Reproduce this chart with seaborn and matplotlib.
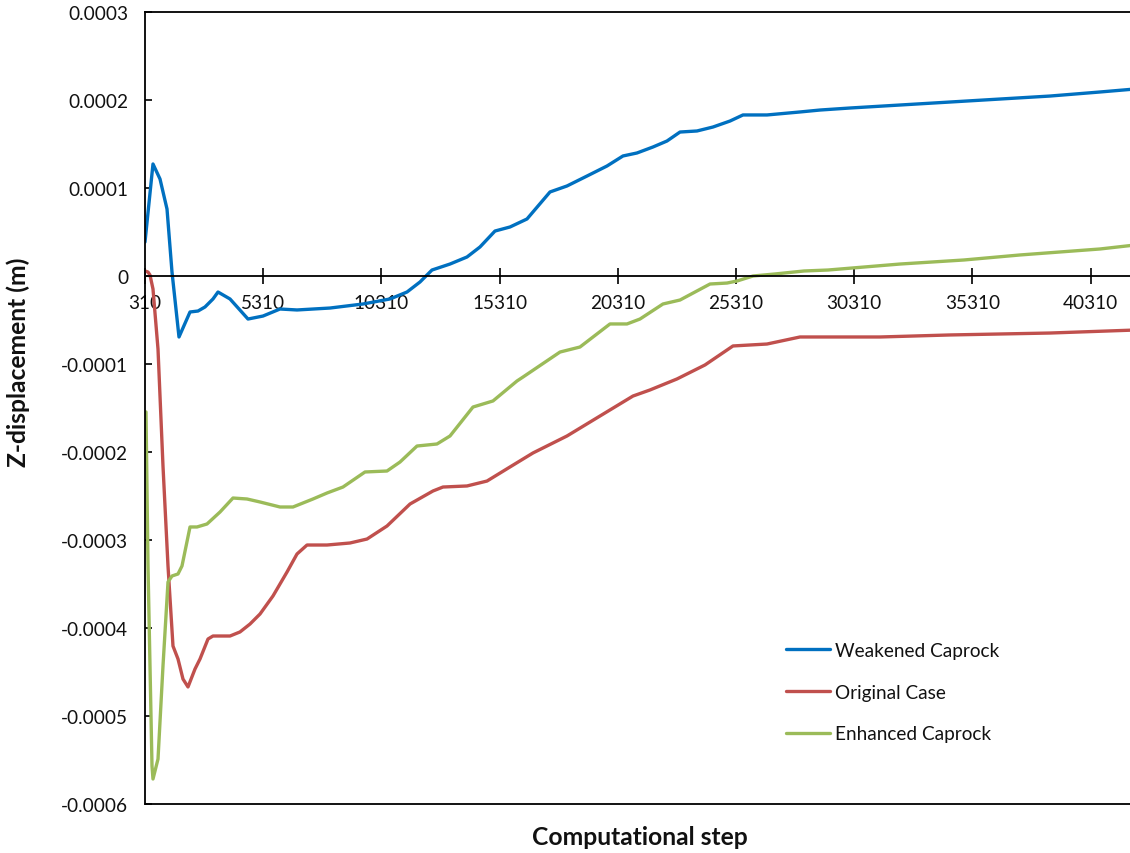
import numpy as np
import pandas as pd
import matplotlib
matplotlib.use("Agg")
import matplotlib.pyplot as plt
import seaborn as sns

# Z-displacement history (m) versus computational step for three caprock cases
weak_step = [310, 648, 945, 1241, 1452, 1748, 2214, 2552, 2848, 3186, 3398, 3906,
             4667, 5301, 6021, 6740, 8136, 9531, 10674, 11393, 11943, 12450, 13212,
             13931, 14481, 15115, 15750, 16469, 17442, 18161, 19007, 19853, 20529,
             21122, 21798, 22391, 22941, 23660, 24336, 25056, 25605, 26621, 28017,
             28863, 30132, 32247, 34362, 36477, 38592, 40707, 42188]
weak_disp = [0.386, 1.273, 1.102, 0.761, 0.045, -0.693, -0.409, -0.398, -0.352,
             -0.261, -0.182, -0.261, -0.489, -0.455, -0.375, -0.386, -0.364, -0.318,
             -0.261, -0.182, -0.068, 0.068, 0.136, 0.216, 0.330, 0.511, 0.557, 0.648,
             0.955, 1.023, 1.136, 1.250, 1.364, 1.398, 1.466, 1.534, 1.636, 1.648,
             1.693, 1.761, 1.830, 1.830, 1.864, 1.886, 1.909, 1.943, 1.977, 2.011,
             2.045, 2.091, 2.125]

orig_step = [310, 437, 521, 648, 860, 1071, 1283, 1494, 1706, 1917, 2129, 2425,
             2637, 2975, 3186, 3906, 4328, 4751, 5175, 5724, 6317, 6740, 7163, 8009,
             8982, 9701, 10547, 11520, 12492, 12915, 13931, 14777, 15750, 16722,
             18161, 19556, 20952, 21672, 22814, 23998, 25182, 26621, 28017, 29286,
             31400, 34362, 38592, 42188]
orig_disp = [0.057, 0.045, 0.011, -0.148, -0.830, -2.159, -3.295, -4.205, -4.352,
             -4.580, -4.670, -4.466, -4.352, -4.125, -4.091, -4.091, -4.045, -3.955,
             -3.841, -3.636, -3.364, -3.159, -3.057, -3.057, -3.034, -2.989, -2.841,
             -2.591, -2.443, -2.398, -2.386, -2.330, -2.170, -2.011, -1.818, -1.591,
             -1.364, -1.295, -1.170, -1.011, -0.795, -0.773, -0.693, -0.693, -0.693,
             -0.670, -0.648, -0.614]

enh_step = [352, 437, 606, 648, 860, 1071, 1283, 1452, 1706, 1875, 2214, 2510,
            2933, 3483, 4032, 4625, 5175, 6021, 6570, 7416, 8009, 8685, 9616,
            10547, 11097, 11816, 12661, 13212, 14184, 15030, 16046, 16300, 17865,
            18710, 19979, 20698, 21248, 22221, 22941, 24210, 24929, 25352, 26029,
            26959, 28186, 29201, 30724, 32247, 34954, 37323, 40707, 42188]
enh_disp = [-1.545, -3.295, -5.568, -5.716, -5.489, -4.432, -3.477, -3.409, -3.386,
            -3.295, -2.852, -2.852, -2.818, -2.682, -2.523, -2.534, -2.568, -2.625,
            -2.625, -2.534, -2.466, -2.398, -2.227, -2.216, -2.114, -1.932, -1.909,
            -1.818, -1.489, -1.420, -1.193, -1.148, -0.864, -0.807, -0.545, -0.545,
            -0.489, -0.318, -0.273, -0.091, -0.080, -0.057, 0.000, 0.023, 0.057,
            0.068, 0.102, 0.136, 0.182, 0.239, 0.307, 0.352]

series_names = ["Weakened Caprock", "Original Case", "Enhanced Caprock"]
series_colors = ["#0070C0", "#C0504D", "#9BBB59"]

x_ticks = [310, 5310, 10310, 15310, 20310, 25310, 30310, 35310, 40310]
y_ticks = [0.0003, 0.0002, 0.0001, 0, -0.0001, -0.0002, -0.0003, -0.0004, -0.0005, -0.0006]
y_tick_labels = ["0.0003", "0.0002", "0.0001", "0", "-0.0001", "-0.0002",
                 "-0.0003", "-0.0004", "-0.0005", "-0.0006"]

frames = []
for name, steps, disp in zip(series_names,
                             [weak_step, orig_step, enh_step],
                             [weak_disp, orig_disp, enh_disp]):
    frames.append(pd.DataFrame({"step": steps,
                                "disp": np.array(disp) * 1e-4,
                                "case": name}))
df = pd.concat(frames, ignore_index=True)

sns.set_style("white")
plt.rcParams["font.family"] = ["Lato", "DejaVu Sans"]

W, H = 1130, 854
fig = plt.figure(figsize=(W / 100, H / 100), dpi=100)
ax_w = (42310 - 310) / 5000 * 118.2
ax = fig.add_axes([145 / W, 49 / H, ax_w / W, 792 / H])

sns.lineplot(data=df, x="step", y="disp", hue="case", hue_order=series_names,
             palette=series_colors, sort=False, estimator=None, linewidth=2.4,
             ax=ax, legend=True)
for line in ax.get_lines():
    line.set_solid_joinstyle("round")
    line.set_solid_capstyle("round")

ax.set_xlim(310, 42310)
ax.set_ylim(-0.0006, 0.0003)

# x axis runs through zero, frame closed at the bottom edge
ax.spines["bottom"].set_position(("data", 0))
ax.spines["right"].set_visible(False)
for s in ["bottom", "top", "left"]:
    ax.spines[s].set_color("black")
    ax.spines[s].set_linewidth(1.3)
ax.plot([0, 1], [0, 0], transform=ax.transAxes, color="black", lw=1.3,
        clip_on=False, zorder=5)

ax.set_xticks(x_ticks)
ax.set_xticklabels([str(t) for t in x_ticks])
ax.set_yticks(y_ticks)
ax.set_yticklabels(y_tick_labels)
ax.tick_params(axis="x", direction="inout", length=12, width=1.2, color="black",
               labelsize=13.7, pad=7, bottom=True, labelcolor="#111111")
ax.tick_params(axis="y", direction="in", length=5, width=1.2, color="black",
               labelsize=13.7, pad=12, left=True, labelcolor="#111111")

ax.set_xlabel("")
ax.set_ylabel("")
fig.text(640 / W, 1 - 838 / H, "Computational step", ha="center", va="center",
         fontsize=17.7, fontweight="bold", color="#111111")
fig.text(18 / W, 1 - 362 / H, "Z-displacement (m)", ha="center", va="center",
         rotation=90, fontsize=17.7, fontweight="bold", color="#111111")

ax.legend_.remove()
handles, labels = ax.get_legend_handles_labels()
fig.legend(handles, labels, loc="upper left", bbox_to_anchor=(786 / W, 1 - 643 / H),
           frameon=False, fontsize=13.7, handlelength=2.3, handletextpad=0.25,
           labelspacing=1.3, borderpad=0, borderaxespad=0, labelcolor="#111111")

fig.savefig("out.png", dpi=100)
